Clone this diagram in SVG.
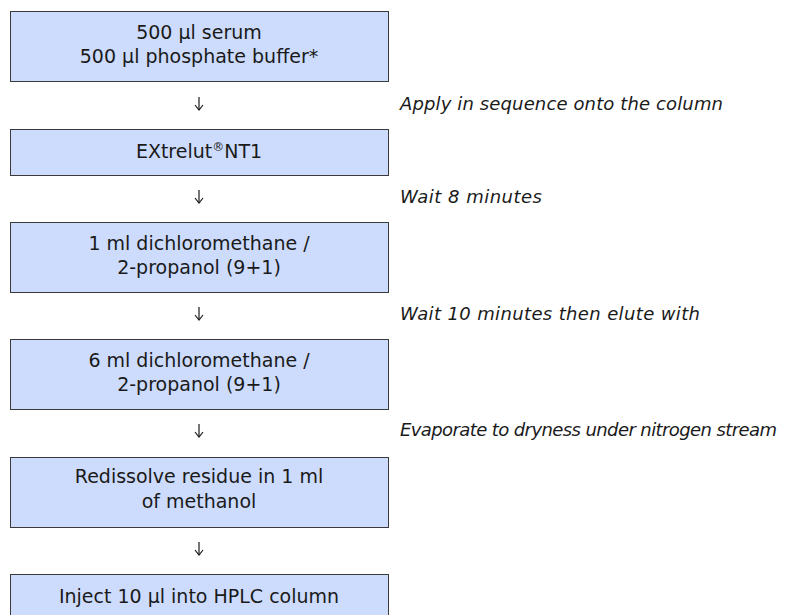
<svg xmlns="http://www.w3.org/2000/svg" width="805" height="615" viewBox="0 0 805 615">
<style>
.box{fill:#cddcfd;stroke:#3a3a3a;stroke-width:1}
.t{font-family:"DejaVu Sans","Noto Sans",sans-serif;font-size:19px;fill:#1a1a1a;text-anchor:middle}
.lbl{font-family:"DejaVu Sans","Noto Sans",sans-serif;font-size:18px;font-style:italic;fill:#1a1a1a}
.arr{stroke:#1a1a1a;stroke-width:1.2;fill:none}
</style>
<defs>
<marker id="ah" markerWidth="10" markerHeight="10" refX="8" refY="5" orient="auto" markerUnits="userSpaceOnUse" viewBox="0 0 10 10">
<path d="M3,1 L8,5 L3,9" fill="none" stroke="#1a1a1a" stroke-width="1.2"/>
</marker>
</defs>
<rect width="805" height="615" fill="#ffffff"/>
<g id="n1"><rect class="box" x="10.5" y="11.5" width="378" height="70"/>
<text class="t" x="199" y="39">500 µl serum</text>
<text class="t" x="199" y="63">500 µl phosphate buffer*</text></g>
<g id="n2"><rect class="box" x="10.5" y="129.5" width="378" height="46"/>
<text class="t" x="199" y="158">EXtrelut<tspan font-size="12" dy="-7">®</tspan><tspan dy="7">NT1</tspan></text></g>
<g id="n3"><rect class="box" x="10.5" y="222.5" width="378" height="70"/>
<text class="t" x="199" y="250">1 ml dichloromethane /</text>
<text class="t" x="199" y="274">2-propanol (9+1)</text></g>
<g id="n4"><rect class="box" x="10.5" y="339.5" width="378" height="70"/>
<text class="t" x="199" y="367">6 ml dichloromethane /</text>
<text class="t" x="199" y="391">2-propanol (9+1)</text></g>
<g id="n5"><rect class="box" x="10.5" y="457.5" width="378" height="70"/>
<text class="t" x="199" y="483">Redissolve residue in 1 ml</text>
<text class="t" x="199" y="508">of methanol</text></g>
<g id="n6"><rect class="box" x="10.5" y="574.5" width="378" height="46"/>
<text class="t" x="199" y="603">Inject 10 µl into HPLC column</text></g>
<g id="connectors">
<line class="arr" x1="199" y1="97" x2="199" y2="110" marker-end="url(#ah)"/>
<line class="arr" x1="199" y1="190" x2="199" y2="203" marker-end="url(#ah)"/>
<line class="arr" x1="199" y1="307" x2="199" y2="320" marker-end="url(#ah)"/>
<line class="arr" x1="199" y1="424" x2="199" y2="437" marker-end="url(#ah)"/>
<line class="arr" x1="199" y1="542" x2="199" y2="555" marker-end="url(#ah)"/>
</g>
<g id="labels">
<text class="lbl" x="400" y="110" textLength="323" lengthAdjust="spacing">Apply in sequence onto the column</text>
<text class="lbl" x="400" y="203" textLength="142" lengthAdjust="spacing">Wait 8 minutes</text>
<text class="lbl" x="400" y="320" textLength="300" lengthAdjust="spacing">Wait 10 minutes then elute with</text>
<text class="lbl" x="400" y="436" textLength="377" lengthAdjust="spacing">Evaporate to dryness under nitrogen stream</text>
</g>
</svg>
